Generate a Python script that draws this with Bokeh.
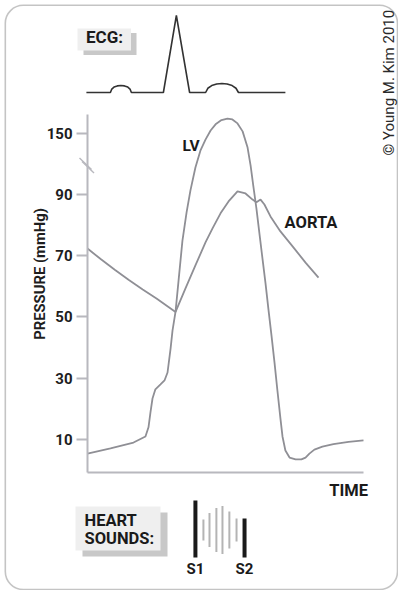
import math
from bokeh.plotting import figure
from bokeh.models import Range1d, LinearAxis, FixedTicker, BoxAnnotation
from bokeh.core.properties import value
from bokeh.embed import file_html
from bokeh.resources import INLINE

# ---------------- data ----------------
# time in arbitrary units (0..100 along the time axis)
# pressure in axis units; above the break, axis unit u reads as u + 40 mmHg
aorta_time = [0, 5, 10, 15, 20, 25, 31.9, 35.5, 39.1, 42.75, 45.3, 48.2, 51.1, 54.35,
              57.25, 59.8, 61.2, 62.7, 64.1, 66.3, 69.9, 74.6, 79.0, 83.7]
aorta_pressure = [72.3, 68.7, 65.3, 62.0, 58.9, 56.0, 51.6, 59.3, 66.8, 74.3, 78.9, 83.8,
                  87.7, 91.0, 90.3, 88.3, 87.4, 88.3, 86.7, 82.8, 77.9, 72.7, 67.7, 62.8]

lv_time = [0, 8.33, 16.67, 21.0, 22.1, 22.8, 23.55, 24.6, 26.45, 27.9, 29.0, 30.1, 30.8,
           31.9, 33.0, 34.4, 35.9, 37.3, 39.1, 40.9, 42.75, 44.6, 46.4, 48.55, 50.7, 52.5,
           54.35, 56.2, 58.0, 59.1, 60.1, 61.2, 62.3, 63.4, 64.5, 65.6, 66.7, 67.75, 68.8,
           69.9, 70.65, 71.7, 73.2, 75.4, 77.5, 79.0, 80.4, 82.2, 85.1, 89.1, 94.6, 100]
lv_pressure = [5.3, 7.0, 8.9, 10.9, 13.9, 18.7, 23.3, 26.3, 27.9, 29.2, 31.8, 39.6, 45.5,
               51.7, 61.9, 74.9, 84.1, 91.3, 98.8, 104.3, 107.9, 110.9, 112.9, 114.3, 114.8,
               114.5, 113.2, 110.6, 105.3, 99.4, 92.6, 85.4, 77.2, 69.0, 60.9, 52.1, 43.6,
               35.1, 26.0, 16.8, 10.9, 6.3, 4.0, 3.4, 3.4, 4.0, 5.3, 6.6, 7.6, 8.4, 9.1, 9.6]

y_ticks = [10, 30, 50, 70, 90, 110]
y_tick_labels = {110: "150"}

ecg_time = [-0.4, 8.3, 8.8, 9.6, 10.8, 12.1, 13.4, 14.6, 15.4, 15.9, 27.5, 32.2, 37.0,
            42.8, 43.6, 45.0, 46.8, 48.7, 50.6, 52.4, 53.8, 54.7, 71.7]
ecg_mv = [0, 0, 0.045, 0.07, 0.086, 0.091, 0.086, 0.07, 0.045, 0, 0, 1.0, 0,
          0, 0.055, 0.09, 0.11, 0.117, 0.11, 0.09, 0.055, 0, 0]

murmur_time = [42.0, 44.2, 46.7, 48.9, 51.4, 54.0]
murmur_amp = [0.44, 0.71, 0.92, 1.0, 0.77, 0.48]

sound_time = [39.1, 56.9]
sound_amp = [1.23, 0.48]
sound_names = ["S1", "S2"]

# ---------------- layout helpers (canvas pixels -> data units) ----------------
FONT = "Roboto"
def X(px):
    return (px - 87) / 2.76
def Y(py):
    return (469.3 - py) / 3.06
def YE(py):
    return (92 - py) / 77.0
def YS(py):
    return (529.5 - py) / 24.0

W, H = 398, 590
p = figure(width=W, height=H,
           x_range=Range1d(X(0), X(W)), y_range=Range1d(Y(H), Y(0)),
           x_axis_type=None, y_axis_type=None, min_border=0,
           toolbar_location=None, output_backend="svg",
           outline_line_color=None)
p.grid.visible = False
p.background_fill_color = "white"
p.border_fill_color = "white"
p.extra_y_ranges = {"ecg": Range1d(YE(H), YE(0)), "snd": Range1d(YS(H), YS(0))}

# outer rounded frame
p.add_layout(BoxAnnotation(left=X(4.8), right=X(397.0), top=Y(4.8), bottom=Y(589.0),
                           fill_color=None, line_color="#3c3c3c", line_width=1.6,
                           border_radius=18, level="overlay"))

# label boxes (shadow + light)
for (l, t, r, b, c) in [(83, 32.5, 136, 54.5, "#c8c8c8"), (77, 28, 130.5, 50, "#efefef"),
                        (82, 512, 167, 556, "#c8c8c8"), (75, 506, 160, 550, "#efefef")]:
    p.add_layout(BoxAnnotation(left=X(l), right=X(r), top=Y(t), bottom=Y(b),
                               fill_color=c, fill_alpha=1, line_color=None, level="underlay"))

# ECG
p.line(ecg_time, ecg_mv, y_range_name="ecg", line_color="#333333", line_width=1.6)

# pressure curves
curve_color = "#8f8f95"
p.line(aorta_time, aorta_pressure, line_color=curve_color, line_width=1.8)
p.line(lv_time, lv_pressure, line_color=curve_color, line_width=1.8)

# axes
axis_color = "#b8b8be"
yaxis = LinearAxis(fixed_location=0, bounds=(-1, 116),
                   ticker=FixedTicker(ticks=y_ticks, minor_ticks=[]),
                   major_label_overrides=y_tick_labels)
yaxis.axis_line_color = axis_color
yaxis.axis_line_width = 2
yaxis.major_tick_line_color = axis_color
yaxis.major_tick_line_width = 2
yaxis.major_tick_out = 11
yaxis.major_tick_in = 0
yaxis.minor_tick_out = 0
yaxis.major_label_standoff = 4
yaxis.major_label_text_font = FONT
yaxis.major_label_text_font_style = "bold"
yaxis.major_label_text_font_size = "15px"
yaxis.major_label_text_color = "#1e1e1e"
p.add_layout(yaxis, "left")

xaxis = LinearAxis(fixed_location=Y(472), bounds=(0, 100),
                   ticker=FixedTicker(ticks=[], minor_ticks=[]))
xaxis.axis_line_color = axis_color
xaxis.axis_line_width = 2
xaxis.major_tick_out = 0
xaxis.minor_tick_out = 0
xaxis.major_label_text_font_size = "0px"
p.add_layout(xaxis, "below")

# axis break marks
p.segment(x0=[X(79), X(81.5)], y0=[Y(157.5), Y(161)], x1=[X(91), X(93.5)], y1=[Y(169), Y(172.5)],
          line_color=axis_color, line_width=1.4)

# heart sounds
p.segment(x0=murmur_time, y0=[-a for a in murmur_amp], x1=murmur_time, y1=murmur_amp,
          y_range_name="snd", line_color="#b4b4b4", line_width=2)
p.segment(x0=sound_time, y0=[YS(557)] * len(sound_time), x1=sound_time, y1=sound_amp,
          y_range_name="snd", line_color="#1a1a1a", line_width=4)
p.text(x=sound_time, y=[YS(568)] * len(sound_time), text=sound_names, y_range_name="snd",
       text_font=value(FONT), text_font_style="bold", text_font_size="15px",
       text_align="center", text_baseline="middle", text_color="#1a1a1a")

# texts
def label(x, y, txt, size="16px", align="left", style="bold", angle=0, color="#1a1a1a"):
    p.text(x=[x], y=[y], text=[txt], text_font=value(FONT), text_font_style=style,
           text_font_size=size, text_align=align, text_baseline="middle",
           text_color=color, angle=angle)

label(X(85.5), Y(36), "ECG:", size="17px")
label(X(84), Y(520), "HEART", size="16.5px")
label(X(84), Y(538), "SOUNDS:", size="16.5px")
label(X(190.5), Y(145), "LV", size="15.5px", align="center")
label(X(310.5), Y(222), "AORTA", size="16.5px", align="center")
label(X(367.5), Y(490), "TIME", size="16.5px", align="right")
label(X(39.5), Y(273.5), "PRESSURE (mmHg)", size="14.8px", align="center", angle=math.pi / 2,
      color="#1e1e1e")
label(X(388.5), Y(155), "\u00a9 Young M. Kim 2010", size="15px", style="normal",
      angle=math.pi / 2, color="#2a2a2a")

open("out.html", "w").write(file_html(p, INLINE))
